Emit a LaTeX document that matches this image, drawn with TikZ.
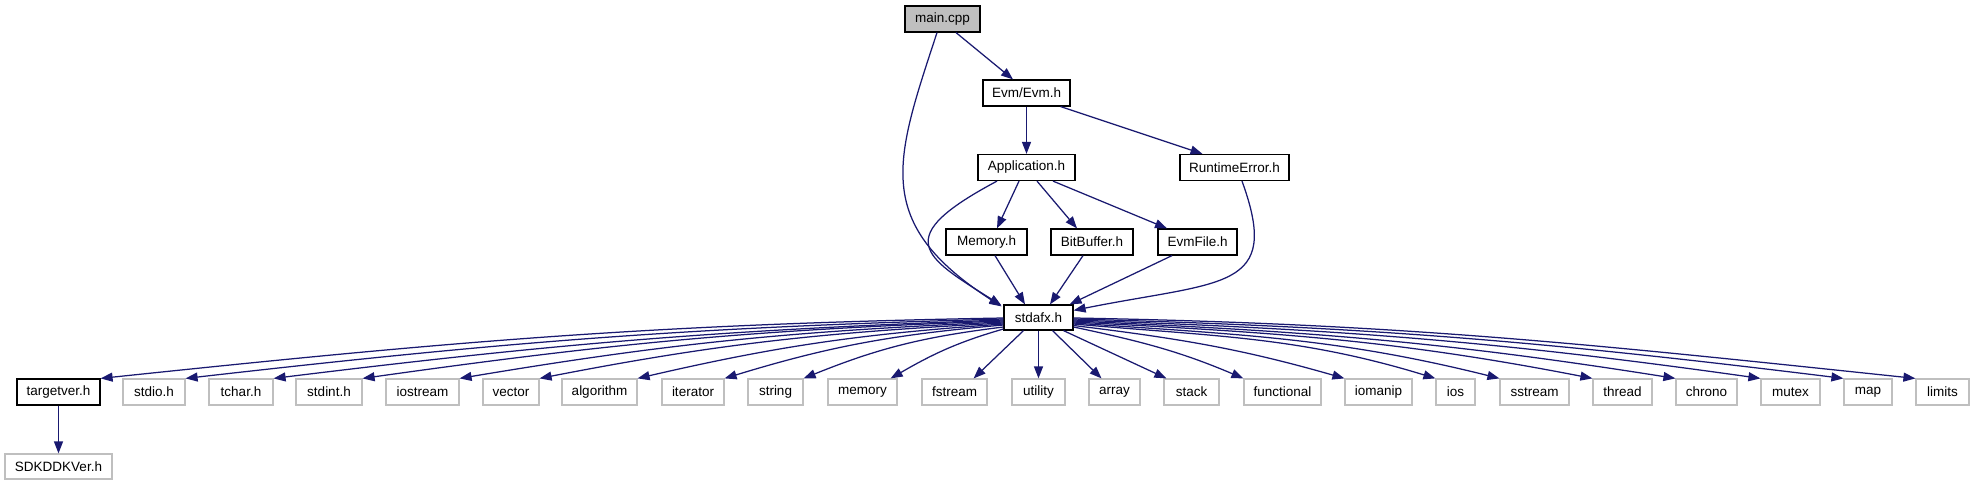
\documentclass[tikz,border=0pt]{standalone}
\usepackage{fontspec}
\setmainfont{Liberation Sans}
\usetikzlibrary{arrows.meta}
\definecolor{edgeblue}{HTML}{191970}
\definecolor{boxgray}{HTML}{BFBFBF}
\begin{document}
\begin{tikzpicture}[x=1pt,y=1pt,
 box/.style={draw=black, line width=1.2pt, fill=white, inner sep=0pt, minimum height=26pt, font=\fontsize{13.5}{15}\selectfont},
 gbox/.style={box, draw=boxgray},
 rootbox/.style={box, fill=boxgray},
 edge/.style={draw=edgeblue, line width=1.25pt, -{Triangle[length=12pt,width=9pt]}},
]
\useasboundingbox (0,0) rectangle (1975,-485);
% upper part
\node[rootbox, minimum width=75pt] (main) at (942.5,-19) {main.cpp};
\node[box, minimum width=87pt] (evm) at (1026.5,-93) {Evm/Evm.h};
\node[box, minimum width=97pt] (app) at (1026.5,-167.5) {Application.h};
\node[box, minimum width=109pt] (rte) at (1234.5,-167.5) {RuntimeError.h};
\node[box, minimum width=81pt] (mem) at (986.5,-242) {Memory.h};
\node[box, minimum width=82pt] (bitbuf) at (1092,-242) {BitBuffer.h};
\node[box, minimum width=79pt] (evmfile) at (1197.5,-242) {EvmFile.h};
\node[box, minimum width=69pt, minimum height=25pt] (stdafx) at (1038.5,-317.5) {stdafx.h};
% bottom row
\node[box, minimum width=83pt] (targetver) at (58.5,-392) {targetver.h};
\node[gbox, minimum width=62pt] (stdio) at (154,-392) {stdio.h};
\node[gbox, minimum width=64pt] (tchar) at (241,-392) {tchar.h};
\node[gbox, minimum width=66pt] (stdint) at (329,-392) {stdint.h};
\node[gbox, minimum width=73pt] (iostream) at (422.5,-392) {iostream};
\node[gbox, minimum width=56pt] (vector) at (511,-392) {vector};
\node[gbox, minimum width=75pt] (algorithm) at (599.5,-392) {algorithm};
\node[gbox, minimum width=62pt] (iterator) at (693,-392) {iterator};
\node[gbox, minimum width=55pt] (string) at (775.5,-392) {string};
\node[gbox, minimum width=69pt] (memh) at (862.5,-392) {memory};
\node[gbox, minimum width=65pt] (fstream) at (954.5,-392) {fstream};
\node[gbox, minimum width=53pt] (utility) at (1038.5,-392) {utility};
\node[gbox, minimum width=51pt] (array) at (1114.5,-392) {array};
\node[gbox, minimum width=55pt] (stack) at (1191.5,-392) {stack};
\node[gbox, minimum width=77pt] (functional) at (1282.5,-392) {functional};
\node[gbox, minimum width=67pt] (iomanip) at (1378.5,-392) {iomanip};
\node[gbox, minimum width=39pt] (ios) at (1455.5,-392) {ios};
\node[gbox, minimum width=69pt] (sstream) at (1534.5,-392) {sstream};
\node[gbox, minimum width=59pt] (thread) at (1622.5,-392) {thread};
\node[gbox, minimum width=61pt] (chrono) at (1706.5,-392) {chrono};
\node[gbox, minimum width=59pt] (mutex) at (1790.5,-392) {mutex};
\node[gbox, minimum width=48pt] (map) at (1868,-392) {map};
\node[gbox, minimum width=53pt] (limits) at (1942.5,-392) {limits};
\node[gbox, minimum width=107pt, minimum height=25pt] (sdk) at (58.5,-466.5) {SDKDDKVer.h};
% upper edges
\draw[edge] ([xshift=13.5pt]main.south) -- ([xshift=-13.5pt]evm.north);
\draw[edge] ([xshift=-5.5pt]main.south) .. controls +(-42,-128) and +(-130,84) .. ([shift={(-2pt,-2pt)}]stdafx.north west);
\draw[edge] (evm.south) -- (app.north);
\draw[edge] ([xshift=-10pt]evm.south east) -- ([xshift=-32pt]rte.north);
\draw[edge] ([xshift=-29.5pt]app.south) .. controls +(-107,-57) and +(-78,49) .. ([shift={(-2pt,-1pt)}]stdafx.north west);
\draw[edge] ([xshift=-7.5pt]app.south) -- ([xshift=10.5pt]mem.north);
\draw[edge] ([xshift=10.5pt]app.south) -- ([xshift=-15pt]bitbuf.north);
\draw[edge] ([xshift=26.5pt]app.south) -- ([xshift=-30.5pt]evmfile.north);
\draw[edge] ([xshift=8.5pt]mem.south) -- ([xshift=-13.5pt]stdafx.north);
\draw[edge] ([xshift=-9pt]bitbuf.south) -- ([xshift=11.5pt]stdafx.north);
\draw[edge] ([xshift=-25.5pt]evmfile.south) -- ([xshift=-4pt]stdafx.north east);
\draw[edge] ([xshift=7.5pt]rte.south) .. controls +(40,-110) and +(150,30) .. ([yshift=-6pt]stdafx.north east);
% stdafx to left group
\draw[edge] ([yshift=-0.5pt]stdafx.west) to[out=181,in=6] (targetver.north east);
\draw[edge] ([yshift=-1.5pt]stdafx.west) to[out=181.5,in=6.5] (stdio.north east);
\draw[edge] ([yshift=-2.5pt]stdafx.west) to[out=182,in=7] (tchar.north east);
\draw[edge] ([yshift=-3.5pt]stdafx.west) to[out=182,in=8] (stdint.north east);
\draw[edge] ([yshift=-4.5pt]stdafx.west) to[out=182.5,in=9.5] (iostream.north east);
\draw[edge] ([yshift=-5.5pt]stdafx.west) to[out=183,in=11] (vector.north east);
\draw[edge] ([yshift=-6.5pt]stdafx.west) to[out=184,in=13] (algorithm.north east);
\draw[edge] ([yshift=-7.5pt]stdafx.west) to[out=185,in=17] (iterator.north east);
\draw[edge] ([yshift=-9.5pt]stdafx.west) to[out=187,in=22] (string.north east);
\draw[edge] ([yshift=-11.5pt]stdafx.west) to[out=196,in=30] ([xshift=-7pt]memh.north east);
\draw[edge] ([xshift=-15pt]stdafx.south) -- ([xshift=-14pt]fstream.north east);
\draw[edge] (stdafx.south) -- (utility.north);
\draw[edge] ([xshift=14pt]stdafx.south) -- ([xshift=-13pt]array.north);
\draw[edge] ([xshift=25pt]stdafx.south) -- ([xshift=3pt]stack.north west);
% stdafx to right group
\draw[edge] ([yshift=-9.5pt]stdafx.east) to[out=-12,in=157] (functional.north west);
\draw[edge] ([yshift=-8pt]stdafx.east) to[out=-7,in=164] (iomanip.north west);
\draw[edge] ([yshift=-6.5pt]stdafx.east) to[out=-5,in=163] (ios.north west);
\draw[edge] ([yshift=-5.5pt]stdafx.east) to[out=-4,in=166] (sstream.north west);
\draw[edge] ([yshift=-4.5pt]stdafx.east) to[out=-3,in=169] (thread.north west);
\draw[edge] ([yshift=-3.5pt]stdafx.east) to[out=-2.5,in=171] (chrono.north west);
\draw[edge] ([yshift=-2.5pt]stdafx.east) to[out=-2,in=172] (mutex.north west);
\draw[edge] ([yshift=-1.5pt]stdafx.east) to[out=-1.5,in=173] (map.north west);
\draw[edge] ([yshift=-0.5pt]stdafx.east) to[out=-1,in=174] (limits.north west);
% targetver
\draw[edge] (targetver.south) -- (sdk.north);
\end{tikzpicture}
\end{document}
